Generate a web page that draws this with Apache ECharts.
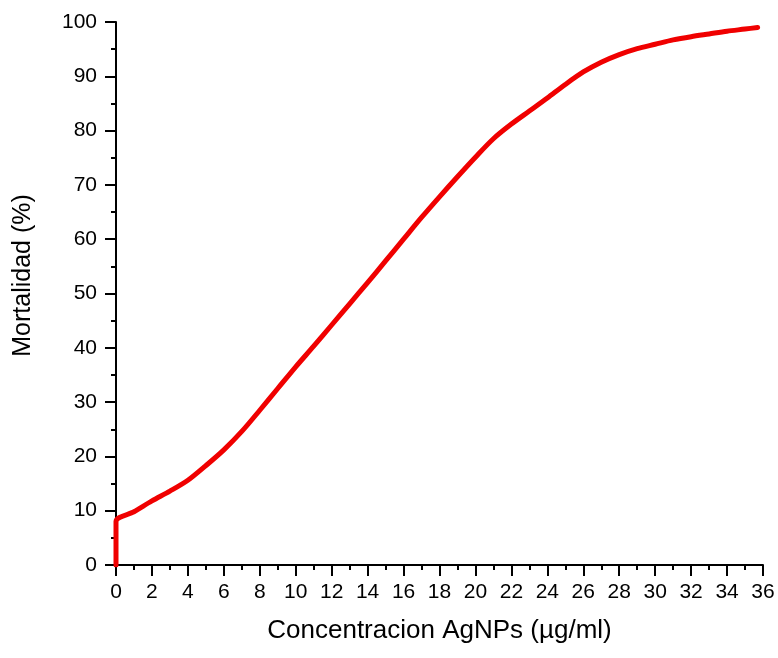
<!DOCTYPE html>
<html>
<head>
<meta charset="utf-8">
<script src="https://cdn.jsdelivr.net/npm/echarts@6/dist/echarts.min.js"></script>
<style>
  html, body { margin: 0; padding: 0; background: #fff; }
  #chart { width: 778px; height: 658px; }
</style>
</head>
<body>
<div id="chart"></div>
<script>
// concentration (µg/ml) and mortality (%)
const concentration = [0, 0, 1, 2, 3, 4, 5, 6, 7, 8, 9, 10, 11, 12, 13, 14, 15, 16, 17, 18,
  19, 20, 21, 22, 23, 24, 25, 26, 27, 28, 29, 30, 31, 32, 33, 34, 35, 35.7]
const mortality = [0, 8, 9.8, 11.8, 13.6, 15.6, 18.3, 21.2, 24.6, 28.5, 32.5, 36.5, 40.3, 44.2,
  48.1, 52, 56, 60, 64, 67.8, 71.5, 75.1, 78.5, 81.2, 83.6, 86, 88.5, 90.8, 92.6, 94,
  95.1, 95.9, 96.7, 97.3, 97.8, 98.3, 98.7, 99]

const xTicks = { min: 0, max: 36, step: 2 }
const yTicks = { min: 0, max: 100, step: 10 }

const points = concentration.map((c, i) => [c, mortality[i]])

const chart = echarts.init(document.getElementById('chart'))

const font = 'Liberation Sans, Arial, sans-serif'

const axisCommon = {
  axisLine: { show: true, onZero: false, lineStyle: { color: '#000', width: 2 } },
  axisTick: { show: true, inside: false, length: 11, lineStyle: { color: '#000', width: 2 } },
  minorTick: { show: true, splitNumber: 2, length: 5, lineStyle: { color: '#000', width: 2 } },
  splitLine: { show: false },
  axisLabel: { color: '#000', fontSize: 21, fontFamily: font },
  nameTextStyle: { color: '#000', fontSize: 25, fontFamily: font },
  nameLocation: 'middle'
}

chart.setOption({
  backgroundColor: '#fff',
  animation: false,
  grid: { left: 116, right: 15, top: 22, bottom: 93, containLabel: false },
  xAxis: Object.assign({}, axisCommon, {
    type: 'value',
    min: xTicks.min,
    max: xTicks.max,
    interval: xTicks.step,
    axisLabel: Object.assign({}, axisCommon.axisLabel, { margin: 17 }),
    name: 'Concentracion AgNPs (µg/ml)',
    nameTextStyle: Object.assign({}, axisCommon.nameTextStyle, { fontSize: 26 }),
    nameGap: 53
  }),
  yAxis: Object.assign({}, axisCommon, {
    type: 'value',
    min: yTicks.min,
    max: yTicks.max,
    interval: yTicks.step,
    axisLabel: Object.assign({}, axisCommon.axisLabel, { margin: 19 }),
    name: 'Mortalidad (%)',
    nameTextStyle: Object.assign({}, axisCommon.nameTextStyle, { padding: [0, 0, 0, 36] }),
    nameGap: 80
  }),
  series: [{
    type: 'line',
    data: points,
    smooth: 0.3,
    showSymbol: false,
    lineStyle: { color: '#f00000', width: 5, cap: 'round', join: 'round' }
  }]
})
</script>
</body>
</html>
